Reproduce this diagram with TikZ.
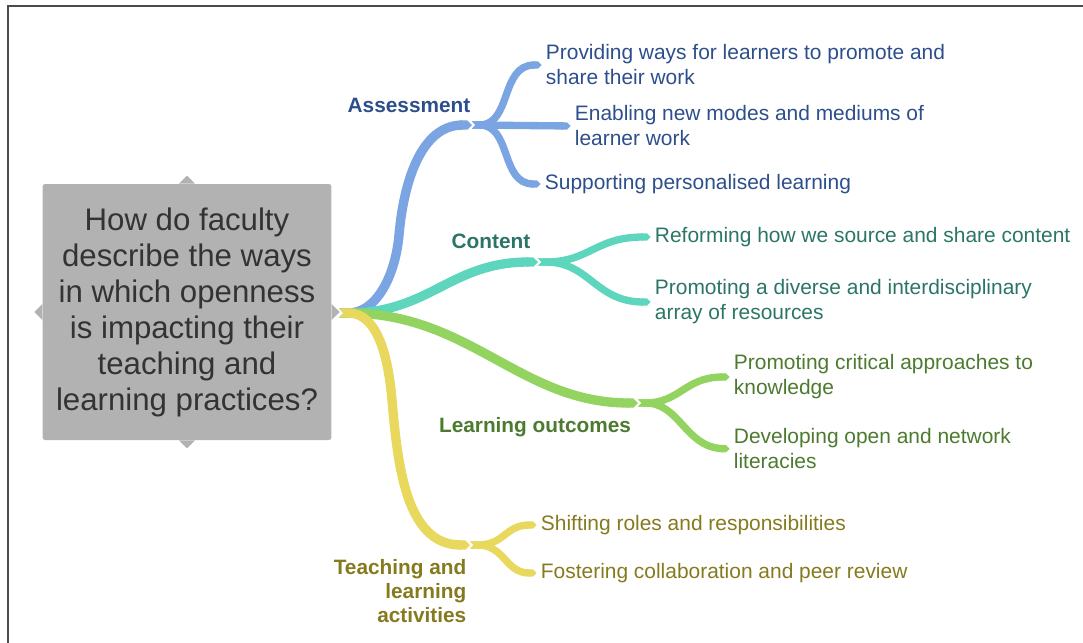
\documentclass[tikz,border=0pt]{standalone}
\usepackage{fontspec}
\setmainfont{Liberation Sans}
\usetikzlibrary{arrows.meta}
\definecolor{qgray}{HTML}{B2B2B2}
\definecolor{qtext}{HTML}{333333}
\definecolor{assessline}{HTML}{7BA4E2}
\definecolor{assesstext}{HTML}{2C4F8C}
\definecolor{contentline}{HTML}{5ED6BD}
\definecolor{contenttext}{HTML}{2B7566}
\definecolor{outcomeline}{HTML}{93D35F}
\definecolor{outcometext}{HTML}{4C7A2E}
\definecolor{teachline}{HTML}{E8D85E}
\definecolor{teachtext}{HTML}{857A1E}
\begin{document}
\begin{tikzpicture}[x=0.75pt,y=-0.75pt]

      \tikzset{question/.style={fill=qgray, rounded corners=2pt, minimum width=216pt, minimum height=192pt, text=qtext, align=center, font=\fontsize{23.4}{27}\selectfont},
               topic/.style={align=center, font=\fontsize{15.6}{18}\selectfont\bfseries},
               leaf/.style={anchor=west, align=left, inner sep=2pt, font=\fontsize{15.7}{18.75}\selectfont},
               limb/.style={line width=7pt, arrows={Triangle Cap[reversed]-Triangle Cap}},
               twig/.style={line width=5.5pt, arrows={Triangle Cap[reversed]-Triangle Cap}, shorten >=1pt}}
      \useasboundingbox (0,0) rectangle (1083,643);
      \draw[line width=1pt, black!70] (8,643) -- (8,6) -- (1083,6);
%% Question
      	\node[question] (q) at (187,312) {\raisebox{-3pt}{\parbox{210pt}{\centering How do faculty\\describe the ways\\in which openness\\is impacting their\\teaching and\\learning practices?}}};
      	\fill[qgray] ([xshift=-6pt]q.north) -- ([yshift=6pt]q.north) -- ([xshift=6pt]q.north) -- cycle;
      	\fill[qgray] ([xshift=-6pt]q.south) -- ([yshift=-6pt]q.south) -- ([xshift=6pt]q.south) -- cycle;
      	\fill[qgray] ([yshift=-6pt]q.west) -- ([xshift=-6pt]q.west) -- ([yshift=6pt]q.west) -- cycle;
      	\fill[qgray] ([yshift=-6pt]q.east) -- ([xshift=6pt]q.east) -- ([yshift=6pt]q.east) -- cycle;
      	\coordinate (root) at (339,313);
%% Topics
      	\coordinate (jA) at (472,125);
      	\coordinate (jC) at (538,262);
      	\coordinate (jL) at (638,403);
      	\coordinate (jT) at (470,545);
      	\node[topic, text=assesstext] (assess) at (409,105) {Assessment};
      	\node[topic, text=contenttext] (content) at (491,241) {Content};
      	\node[topic, text=outcometext] (outcome) at (535,427) {Learning outcomes};
      	\node[topic, text=teachtext, align=right, anchor=east] (teach) at (471,591) {Teaching and\\learning\\activities};
%% Leaves
      	\node[leaf, text=assesstext] (a1) at (543,65) {Providing ways for learners to promote and\\share their work};
      	\node[leaf, text=assesstext] (a2) at (572,126) {Enabling new modes and mediums of\\learner work};
      	\node[leaf, text=assesstext] (a3) at (542,184) {Supporting personalised learning};
      	\node[leaf, text=contenttext] (c1) at (652,237) {Reforming how we source and share content};
      	\node[leaf, text=contenttext] (c2) at (652,302) {Promoting a diverse and interdisciplinary\\array of resources};
      	\node[leaf, text=outcometext] (l1) at (731,377) {Promoting critical approaches to\\knowledge};
      	\node[leaf, text=outcometext] (l2) at (731,449) {Developing open and network\\literacies};
      	\node[leaf, text=teachtext] (t1) at (538,525) {Shifting roles and responsibilities};
      	\node[leaf, text=teachtext] (t2) at (538,573) {Fostering collaboration and peer review};
%Branches
		\draw[limb, assessline] (root) to[out=0, in=-95] (399,235) to[out=85, in=180] (jA);
		\draw[limb, contentline] (root) .. controls (430,313) and (450,262) .. (jC);
		\draw[limb, outcomeline] (root) .. controls (470,313) and (520,403) .. (jL);
		\draw[limb, teachline] (root) to[out=0, in=95] (392,400) to[out=-85, in=180] (jT);
		\draw[twig, assessline] (jA) .. controls (512,125) and (500,65) .. (a1.west);
		\draw[twig, assessline] (jA) -- (a2.west);
		\draw[twig, assessline] (jA) .. controls (512,125) and (500,184) .. (a3.west);
		\draw[twig, contentline] (jC) .. controls (590,262) and (595,237) .. (c1.west);
		\draw[twig, contentline] (jC) .. controls (590,262) and (595,302) .. (c2.west);
		\draw[twig, outcomeline] (jL) .. controls (680,403) and (685,377) .. (l1.west);
		\draw[twig, outcomeline] (jL) .. controls (680,403) and (685,447) .. (l2.west);
		\draw[twig, teachline] (jT) .. controls (505,545) and (505,525) .. (t1.west);
		\draw[twig, teachline] (jT) .. controls (505,545) and (505,573) .. (t2.west);

	\end{tikzpicture}
\end{document}
